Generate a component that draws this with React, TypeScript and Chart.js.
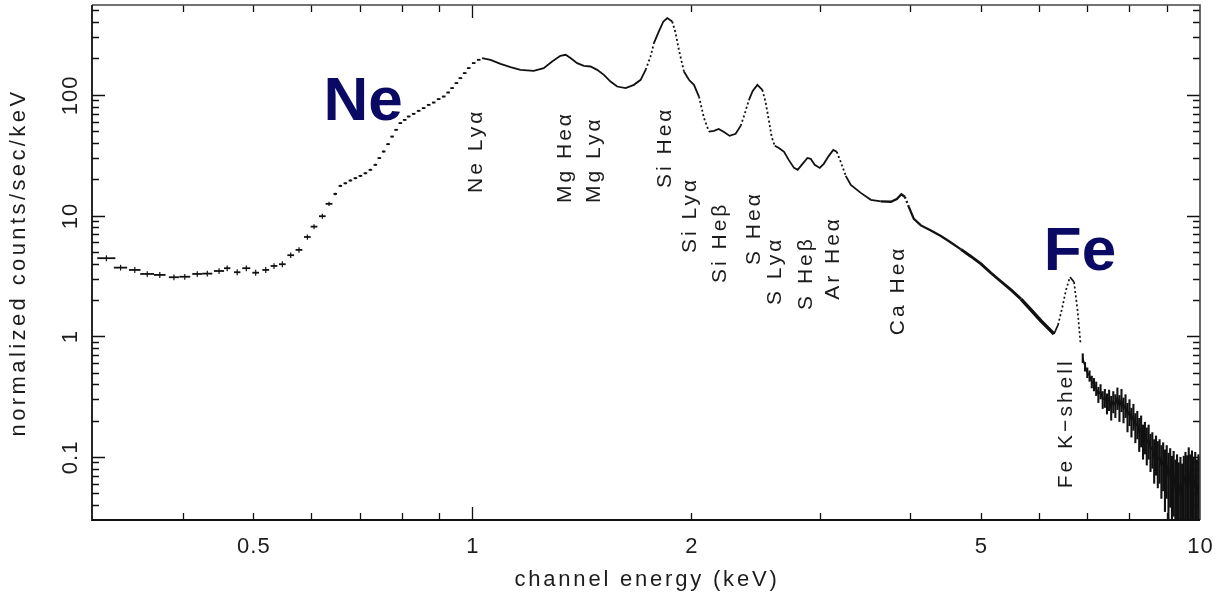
import React, { useEffect, useRef } from "react";
import { Chart, registerables } from "chart.js";

Chart.register(...registerables);

// ---- Soft band: grouped channels (energy keV, half bin width keV, rate, 1-sigma error)
const binEnergy = [
  0.314, 0.3284, 0.3435, 0.3573, 0.3718, 0.3888, 0.4024, 0.4186, 0.4321, 0.4485,
  0.4602, 0.475, 0.4889, 0.5036, 0.5199, 0.5337, 0.548, 0.5627, 0.5776, 0.5931,
  0.6057, 0.6219, 0.6352,
  0.6478, 0.6584, 0.6689, 0.6796, 0.6905, 0.7015, 0.7127, 0.724, 0.7355, 0.7449,
  0.7551, 0.7657, 0.7755, 0.7854, 0.796, 0.807, 0.8173, 0.8303, 0.8435, 0.857,
  0.8707, 0.8847, 0.8986, 0.9132, 0.926, 0.9377, 0.9506, 0.9627, 0.9759, 0.9884,
  1.0041, 1.0202,
];
const binHalfWidth = [
  0.009, 0.0069, 0.0063, 0.0078, 0.0068, 0.0062, 0.007, 0.0066, 0.0069, 0.0072,
  0.0046, 0.0048, 0.0062, 0.0054, 0.0056, 0.0057, 0.0058, 0.006, 0.0062, 0.0062,
  0.0064, 0.0066, 0.0068,
  0.0037, 0.0037, 0.0038, 0.0039, 0.0039, 0.004, 0.0041, 0.0041, 0.0042, 0.0042,
  0.0043, 0.0044, 0.0044, 0.0045, 0.0045, 0.0046, 0.0047, 0.0047, 0.0048, 0.0049,
  0.005, 0.005, 0.0051, 0.0052, 0.0053, 0.0053, 0.0054, 0.0055, 0.0056, 0.0056,
  0.0057, 0.0058,
];
const binRate = [
  4.43, 3.7, 3.54, 3.28, 3.22, 3.08, 3.11, 3.28, 3.3, 3.47,
  3.66, 3.39, 3.66, 3.36, 3.54, 3.82, 3.95, 4.69, 5.19, 6.64,
  8.09, 9.87, 12.5,
  15.1, 17.6, 18.5, 19.5, 20.4, 21.3, 22.4, 23.9, 26.3, 29.9,
  33.9, 39.0, 45.1, 51.3, 58.3, 62.0, 66.1, 69.6, 73.7, 77.6,
  82.6, 86.3, 92.1, 96.8, 104.5, 113.7, 125.1, 137.5, 151.3, 166.5,
  183.2, 195.1,
];
const binError = [
  0.25, 0.2, 0.2, 0.18, 0.18, 0.17, 0.17, 0.18, 0.18, 0.19,
  0.2, 0.19, 0.2, 0.19, 0.2, 0.21, 0.22, 0.25, 0.27, 0.33,
  0.38, 0.45, 0.5,
  0.35, 0.37, 0.38, 0.4, 0.41, 0.42, 0.44, 0.46, 0.5, 0.55,
  0.6, 0.68, 0.75, 0.85, 0.95, 1.0, 1.05, 1.1, 1.15, 1.2,
  1.25, 1.3, 1.4, 1.45, 1.55, 1.65, 1.8, 1.95, 2.1, 2.3,
  2.5, 2.6,
];

// ---- Medium band: dense channels (energy keV, rate)
const lineEnergy = [
  1.031, 1.059, 1.093, 1.128, 1.164, 1.214, 1.253, 1.287, 1.321, 1.343,
  1.364, 1.393, 1.423, 1.453, 1.484, 1.516, 1.548, 1.581, 1.624, 1.667,
  1.703, 1.73, 1.757, 1.776, 1.804, 1.83, 1.853, 1.882, 1.902, 1.922,
  1.953, 1.984, 2.016, 2.048, 2.081, 2.114, 2.148, 2.18, 2.217, 2.257,
  2.3, 2.337, 2.367, 2.399, 2.428, 2.464, 2.503, 2.53, 2.556, 2.578,
  2.603, 2.638, 2.681, 2.721, 2.767, 2.799, 2.835, 2.887, 2.917, 2.954,
  3.002, 3.04, 3.089, 3.133, 3.168, 3.208, 3.259, 3.312, 3.418, 3.529,
  3.642, 3.759, 3.831, 3.886, 3.929, 3.979, 4.043, 4.134, 4.267, 4.404,
  4.546, 4.693, 4.844, 5.0, 5.161, 5.327, 5.499, 5.676, 5.859, 6.047,
  6.183, 6.3, 6.38, 6.461, 6.544, 6.627, 6.712, 6.787, 6.851,
];
const lineRate = [
  201.5, 195.1, 180.7, 169.7, 161.1, 158.1, 166.5, 188.8, 210.6, 214.7,
  201.5, 183.2, 174.0, 171.7, 161.1, 146.5, 128.9, 117.2, 113.6, 121.0,
  133.2, 161.1, 207.8, 268.4, 334.9, 405.3, 432.5, 405.3, 324.9, 236.1,
  156.1, 133.2, 121.0, 96.8, 64.1, 49.6, 50.3, 52.2, 49.3, 45.7,
  47.5, 55.3, 69.6, 90.9, 107.9, 121.0, 110.0, 85.8, 60.9, 44.8,
  37.8, 36.3, 33.7, 28.9, 24.8, 23.9, 26.3, 30.0, 29.5, 26.3,
  24.8, 26.8, 31.2, 35.0, 33.7, 27.8, 21.3, 17.9, 15.4, 13.5,
  13.1, 13.0, 13.7, 15.0, 14.3, 11.8, 9.37, 8.28, 7.52, 6.77,
  5.98, 5.24, 4.58, 3.97, 3.34, 2.84, 2.42, 2.03, 1.649, 1.337,
  1.169, 1.043, 1.239, 1.68, 2.42, 3.1, 2.81, 1.649, 0.878,
];

// ---- Hard band: noisy channels (energy keV, rate, 1-sigma error)
const hardEnergy = [
  6.9, 6.95, 7.0, 7.05, 7.1, 7.15, 7.2, 7.25, 7.3, 7.35,
  7.4, 7.45, 7.5, 7.55, 7.6, 7.65, 7.7, 7.75, 7.8, 7.85,
  7.9, 7.95, 8.0, 8.05, 8.1, 8.15, 8.2, 8.25, 8.3, 8.35,
  8.4, 8.45, 8.5, 8.55, 8.6, 8.65, 8.7, 8.75, 8.8, 8.85,
  8.9, 8.95, 9.0, 9.05, 9.1, 9.15, 9.2, 9.25, 9.3, 9.35,
  9.4, 9.45, 9.5, 9.55, 9.6, 9.65, 9.7, 9.75, 9.8, 9.85,
  9.9, 9.95, 10.0,
];
const hardRate = [
  0.66, 0.56, 0.5, 0.47, 0.42, 0.4, 0.37, 0.33, 0.35, 0.3,
  0.31, 0.28, 0.3, 0.26, 0.29, 0.27, 0.31, 0.26, 0.3, 0.25,
  0.27, 0.22, 0.24, 0.2, 0.22, 0.18, 0.19, 0.16, 0.17, 0.14,
  0.15, 0.13, 0.14, 0.115, 0.12, 0.1, 0.11, 0.095, 0.1, 0.085,
  0.092, 0.075, 0.085, 0.068, 0.078, 0.062, 0.072, 0.055, 0.065, 0.05,
  0.06, 0.048, 0.062, 0.07, 0.058, 0.075, 0.06, 0.068, 0.055, 0.065,
  0.05, 0.06, 0.052,
];
const hardError = [
  0.06, 0.05, 0.05, 0.05, 0.05, 0.05, 0.05, 0.05, 0.05, 0.05,
  0.055, 0.055, 0.06, 0.06, 0.06, 0.06, 0.065, 0.065, 0.065, 0.06,
  0.06, 0.06, 0.06, 0.055, 0.055, 0.05, 0.05, 0.05, 0.05, 0.045,
  0.045, 0.045, 0.045, 0.04, 0.04, 0.04, 0.04, 0.04, 0.04, 0.04,
  0.04, 0.04, 0.04, 0.04, 0.04, 0.04, 0.04, 0.04, 0.04, 0.04,
  0.04, 0.04, 0.04, 0.04, 0.045, 0.045, 0.045, 0.045, 0.045, 0.045,
  0.045, 0.045, 0.045,
];

// ---- Axes
const X_MIN = 0.3;
const X_MAX = 10;
const Y_MIN = 0.03;
const Y_MAX = 555;
const xTickValues = [0.5, 1, 2, 5, 10];
const xTickLabels = ["0.5", "1", "2", "5", "10"];
const yTickValues = [0.1, 1, 10, 100];
const yTickLabels = ["0.1", "1", "10", "100"];
const xTitle = "channel energy (keV)";
const yTitle = "normalized counts/sec/keV";

// ---- Line identifications (label centre energy, rate at label start)
const lineNames = [
  "Ne Lyα", "Mg Heα", "Mg Lyα", "Si Heα", "Si Lyα", "Si Heβ",
  "S Heα", "S Lyα", "S Heβ", "Ar Heα", "Ca Heα", "Fe K−shell",
];
const lineNameEnergy = [1.006, 1.335, 1.463, 1.831, 1.979, 2.18, 2.427, 2.591, 2.862, 3.117, 3.831, 6.522];
const lineNameRate = [15.4, 12.7, 12.7, 16.9, 4.9, 2.76, 3.89, 1.81, 1.65, 2.0, 1.02, 0.055];

const elementNames = ["Ne", "Fe"];
const elementEnergy = [0.624, 6.1];
const elementRate = [62, 3.54];

const INK = "#111111";
const TEXT = "#1c1c1c";
const NAVY = "#0a0a64";

function vText(ctx: CanvasRenderingContext2D, s: string, x: number, y: number, align: CanvasTextAlign) {
  ctx.save();
  ctx.translate(x, y);
  ctx.rotate(-Math.PI / 2);
  ctx.textAlign = align;
  ctx.textBaseline = "alphabetic";
  ctx.fillText(s, 0, 0);
  ctx.restore();
}

function logTicks(min: number, max: number): number[] {
  const out: number[] = [];
  for (let p = Math.floor(Math.log10(min)); p <= Math.ceil(Math.log10(max)); p++) {
    for (let m = 1; m <= 9; m++) {
      const v = m * Math.pow(10, p);
      if (v > min * 1.0001 && v < max * 0.9999) out.push(v);
    }
  }
  return out;
}

const decorPlugin = {
  id: "spectrumDecor",
  afterDatasetsDraw(chart: any) {
    const { ctx, chartArea: a } = chart;
    const xs = chart.scales.x;
    const ys = chart.scales.y;
    ctx.save();
    ctx.beginPath();
    ctx.rect(a.left, a.top, a.right - a.left, a.bottom - a.top);
    ctx.clip();
    ctx.strokeStyle = INK;
    ctx.lineCap = "butt";
    // binned crosses
    binEnergy.forEach((e, i) => {
      const r = binRate[i];
      const px = xs.getPixelForValue(e);
      const py = ys.getPixelForValue(r);
      const x0 = xs.getPixelForValue(e - binHalfWidth[i]);
      const x1 = xs.getPixelForValue(e + binHalfWidth[i]);
      const y0 = ys.getPixelForValue(r - binError[i]);
      const y1 = ys.getPixelForValue(r + binError[i]);
      ctx.lineWidth = 1.8;
      ctx.beginPath();
      ctx.moveTo(x0, py);
      ctx.lineTo(x1, py);
      ctx.stroke();
      ctx.lineWidth = 1.2;
      ctx.beginPath();
      ctx.moveTo(px, y0);
      ctx.lineTo(px, y1);
      ctx.stroke();
    });
    // hard band error bars
    ctx.lineWidth = 2.1;
    ctx.strokeStyle = "#111";
    hardEnergy.forEach((e, i) => {
      const px = xs.getPixelForValue(e);
      const lo = Math.max(hardRate[i] - hardError[i], Y_MIN * 0.3);
      const hi = hardRate[i] + hardError[i];
      ctx.beginPath();
      ctx.moveTo(px, ys.getPixelForValue(lo));
      ctx.lineTo(px, ys.getPixelForValue(hi));
      ctx.stroke();
    });
    ctx.restore();
  },
  afterDraw(chart: any) {
    const { ctx, chartArea: a } = chart;
    const xs = chart.scales.x;
    const ys = chart.scales.y;
    ctx.save();
    // ticks
    ctx.strokeStyle = INK;
    ctx.lineWidth = 1.3;
    logTicks(X_MIN, X_MAX).forEach((v) => {
      const px = Math.round(xs.getPixelForValue(v)) + 0.5;
      const major = Math.abs(Math.log10(v) - Math.round(Math.log10(v))) < 1e-6;
      const len = major ? 13 : 7;
      ctx.beginPath();
      ctx.moveTo(px, a.bottom);
      ctx.lineTo(px, a.bottom - len);
      ctx.moveTo(px, a.top);
      ctx.lineTo(px, a.top + len);
      ctx.stroke();
    });
    logTicks(Y_MIN, Y_MAX).forEach((v) => {
      const py = Math.round(ys.getPixelForValue(v)) + 0.5;
      const major = Math.abs(Math.log10(v) - Math.round(Math.log10(v))) < 1e-6;
      const len = major ? 13 : 7;
      ctx.beginPath();
      ctx.moveTo(a.left, py);
      ctx.lineTo(a.left + len, py);
      ctx.moveTo(a.right, py);
      ctx.lineTo(a.right - len, py);
      ctx.stroke();
    });
    // frame
    ctx.strokeStyle = "#444";
    ctx.lineWidth = 1.6;
    ctx.beginPath();
    ctx.moveTo(a.left, a.top);
    ctx.lineTo(a.right, a.top);
    ctx.lineTo(a.right, a.bottom);
    ctx.stroke();
    ctx.strokeStyle = INK;
    ctx.lineWidth = 1.8;
    ctx.beginPath();
    ctx.moveTo(a.left, a.top);
    ctx.lineTo(a.left, a.bottom);
    ctx.lineTo(a.right, a.bottom);
    ctx.stroke();

    // tick labels
    ctx.fillStyle = TEXT;
    ctx.font = '22px "Liberation Sans", Arial, sans-serif';
    (ctx as any).letterSpacing = "1px";
    ctx.textAlign = "center";
    ctx.textBaseline = "alphabetic";
    xTickValues.forEach((v, i) => {
      ctx.fillText(xTickLabels[i], xs.getPixelForValue(v) + 0.5, a.bottom + 33);
    });
    yTickValues.forEach((v, i) => {
      vText(ctx, yTickLabels[i], a.left - 15, ys.getPixelForValue(v) + 0.5, "center");
    });

    // axis titles
    (ctx as any).letterSpacing = "2.8px";
    ctx.textAlign = "center";
    ctx.fillText(xTitle, (a.left + a.right) / 2 + 1, 586);
    (ctx as any).letterSpacing = "3.4px";
    vText(ctx, yTitle, 25, (a.top + a.bottom) / 2, "center");

    // line identifications
    ctx.font = '21px "Liberation Sans", Arial, sans-serif';
    (ctx as any).letterSpacing = "3px";
    lineNames.forEach((s, i) => {
      vText(ctx, s, xs.getPixelForValue(lineNameEnergy[i]) + 7.5, ys.getPixelForValue(lineNameRate[i]), "left");
    });

    // element labels
    (ctx as any).letterSpacing = "0px";
    ctx.fillStyle = NAVY;
    ctx.font = 'bold 62px "Liberation Sans", Arial, sans-serif';
    ctx.textAlign = "left";
    elementNames.forEach((s, i) => {
      ctx.fillText(s, xs.getPixelForValue(elementEnergy[i]), ys.getPixelForValue(elementRate[i]));
    });
    ctx.restore();
  },
};

export default function App() {
  const canvasRef = useRef<HTMLCanvasElement | null>(null);

  useEffect(() => {
    if (!canvasRef.current) return;
    const mainPts = lineEnergy.map((e, i) => ({ x: e, y: lineRate[i] }));
    const hardPts = hardEnergy.map((e, i) => ({ x: e, y: hardRate[i] }));
    const binPts = binEnergy.map((e, i) => ({ x: e, y: binRate[i] }));

    const chart = new Chart(canvasRef.current, {
      type: "scatter",
      data: {
        datasets: [
          {
            label: "soft",
            data: binPts,
            showLine: false,
            pointRadius: 0,
            borderColor: INK,
          },
          {
            label: "medium",
            data: mainPts,
            showLine: true,
            pointRadius: 0,
            borderColor: INK,
            borderWidth: 1.8,
            tension: 0,
            segment: {
              borderWidth: (c: any) => {
                const e = c.p0.parsed.x;
                if (e < 3.6) return 1.8;
                if (e < 4.6) return 2.3;
                if (e < 5.5) return 2.9;
                if (e < 6.25) return 3.4;
                return 1.7;
              },
              borderDash: (c: any) => {
                const dx = Math.abs(c.p1.x - c.p0.x);
                const dy = Math.abs(c.p1.y - c.p0.y);
                return dy > 2.5 * dx ? [2, 2.5] : undefined;
              },
            },
          },
          {
            label: "hard",
            data: hardPts,
            showLine: true,
            pointRadius: 0,
            borderColor: "#111",
            borderWidth: 1.6,
            tension: 0,
          },
        ],
      },
      options: {
        animation: false,
        responsive: false,
        devicePixelRatio: 1,
        layout: { padding: { left: 92, right: 19, top: 5, bottom: 79 } },
        plugins: { legend: { display: false }, tooltip: { enabled: false } },
        scales: {
          x: { type: "logarithmic", min: X_MIN, max: X_MAX, display: false },
          y: { type: "logarithmic", min: Y_MIN, max: Y_MAX, display: false },
        },
      },
      plugins: [decorPlugin],
    } as any);
    return () => chart.destroy();
  }, []);

  return (
    <div style={{ position: "fixed", left: 0, top: 0, width: 1219, height: 599, background: "#fff" }}>
      <canvas ref={canvasRef} width={1219} height={599} style={{ display: "block" }} />
    </div>
  );
}
